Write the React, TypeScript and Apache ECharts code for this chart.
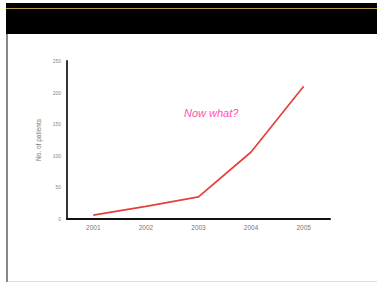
import React, { useEffect, useRef } from "react";
import * as echarts from "echarts";

const years = ["2001", "2002", "2003", "2004", "2005"];
const patients = [6, 20, 35, 106, 210];
const yTicks = [0, 50, 100, 150, 200, 250];

export default function App() {
  const ref = useRef<HTMLDivElement>(null);
  useEffect(() => {
    const chart = echarts.init(ref.current!, null, { renderer: "svg" });
    chart.setOption({
      animation: false,
      backgroundColor: "#ffffff",
      grid: { left: 67, top: 61, right: 47, bottom: 63 },
      xAxis: {
        type: "category",
        data: years,
        boundaryGap: true,
        axisLine: { lineStyle: { color: "#111", width: 2 } },
        axisTick: { show: false },
        axisLabel: { color: "#777", fontSize: 6.5, margin: 5, fontFamily: "Liberation Sans" },
      },
      yAxis: {
        type: "value",
        min: yTicks[0],
        max: yTicks[yTicks.length - 1],
        interval: 50,
        name: "No. of patients",
        nameLocation: "middle",
        nameGap: 17,
        nameTextStyle: { color: "#777", fontSize: 6.5, fontFamily: "Liberation Sans" },
        axisLine: { show: true, lineStyle: { color: "#333", width: 2 } },
        axisTick: { show: false },
        splitLine: { show: false },
        axisLabel: { color: "#888", fontSize: 5, margin: 6, fontFamily: "Liberation Sans" },
      },
      series: [
        {
          type: "line",
          data: patients,
          symbol: "none",
          lineStyle: { color: "#e4403c", width: 1.7 },
        },
      ],
      graphic: [
        { type: "rect", shape: { x: 6, y: 3, width: 371, height: 31 }, style: { fill: "#000" } },
        { type: "line", shape: { x1: 6, y1: 8.5, x2: 377, y2: 8.5 }, style: { stroke: "#b89a4a", lineWidth: 1 } },
        { type: "line", shape: { x1: 7, y1: 34, x2: 7, y2: 282 }, style: { stroke: "#888", lineWidth: 2 } },
        { type: "line", shape: { x1: 8, y1: 281.5, x2: 377, y2: 281.5 }, style: { stroke: "#ddd", lineWidth: 1 } },
        {
          type: "text",
          x: 184,
          y: 113,
          style: {
            text: "Now what?",
            fill: "#ff4fae",
            font: "italic 11px 'Liberation Sans', Arial, sans-serif",
            verticalAlign: "middle",
          },
        },
      ],
    });
    return () => chart.dispose();
  }, []);
  return (
    <div
      ref={ref}
      style={{ position: "fixed", left: 0, top: 0, width: 377, height: 282 }}
    />
  );
}
